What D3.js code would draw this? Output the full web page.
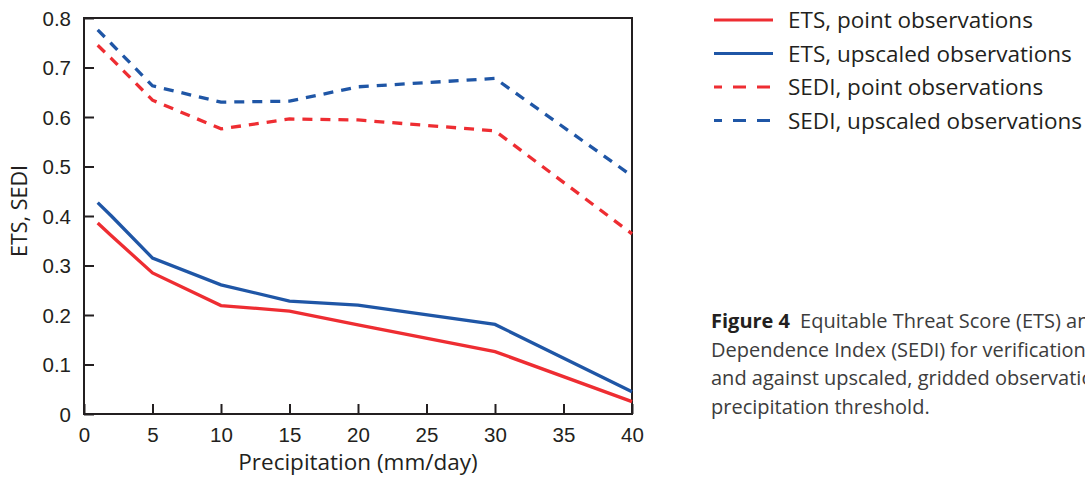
<!DOCTYPE html>
<html>
<head>
<meta charset="utf-8">
<script src="https://cdn.jsdelivr.net/npm/d3@7"></script>
<style>
  body { margin: 0; background: #fff; }
  svg { display: block; font-family: "Open Sans", "Noto Sans", sans-serif; }
</style>
</head>
<body>
<svg id="chart" width="1085" height="482"></svg>
<script>
// data
const thresholds = [1, 2, 5, 10, 15, 20, 30, 40];
const etsPoint    = [0.386, 0.36, 0.285, 0.219, 0.208, 0.180, 0.126, 0.025];
const etsUpscaled = [0.427, 0.40, 0.315, 0.261, 0.228, 0.220, 0.181, 0.045];
const sediPoint    = [0.745, 0.718, 0.634, 0.576, 0.596, 0.594, 0.572, 0.364];
const sediUpscaled = [0.776, 0.748, 0.663, 0.630, 0.632, 0.661, 0.678, 0.481];
const xTicks = [0, 5, 10, 15, 20, 25, 30, 35, 40];
const yTicks = [0, 0.1, 0.2, 0.3, 0.4, 0.5, 0.6, 0.7, 0.8];

const red = "#ee2d32";
const blue = "#1f56a6";
const ink = "#231f20";

const series = [
  { name: "ETS, point observations", values: etsPoint, color: red, dash: null },
  { name: "ETS, upscaled observations", values: etsUpscaled, color: blue, dash: null },
  { name: "SEDI, point observations", values: sediPoint, color: red, dash: "10,8" },
  { name: "SEDI, upscaled observations", values: sediUpscaled, color: blue, dash: "10,8" }
];

const captionLines = [
  "Dependence Index (SEDI) for verification against point observations",
  "and against upscaled, gridded observations, as a function of",
  "precipitation threshold."
];

const svg = d3.select("#chart");
const mLeft = 84, mRight = 632, mTop = 18, mBottom = 414;

const x = d3.scaleLinear().domain([0, 40]).range([mLeft, mRight]);
const y = d3.scaleLinear().domain([0, 0.8]).range([mBottom, mTop]);

// frame
svg.append("rect")
  .attr("x", mLeft).attr("y", mTop)
  .attr("width", mRight - mLeft).attr("height", mBottom - mTop)
  .attr("fill", "none").attr("stroke", ink).attr("stroke-width", 2);

// axes with inward ticks
const xAxis = svg.append("g")
  .attr("transform", `translate(0,${mBottom})`)
  .call(d3.axisBottom(x).tickValues(xTicks).tickSize(-10).tickPadding(13).tickFormat(d3.format("d")));
const yAxis = svg.append("g")
  .attr("transform", `translate(${mLeft},0)`)
  .call(d3.axisLeft(y).tickValues(yTicks).tickSize(-10).tickPadding(13)
    .tickFormat(d => d === 0 ? "0" : d3.format(".1f")(d)));

[xAxis, yAxis].forEach(g => {
  g.select(".domain").remove();
  g.selectAll(".tick line").attr("stroke", ink).attr("stroke-width", 2);
  g.selectAll(".tick text").attr("fill", ink).style("font-size", "20.5px");
});
yAxis.selectAll(".tick text").attr("dy", "0.36em");

// axis labels
svg.append("text")
  .attr("x", 358).attr("y", 470)
  .attr("text-anchor", "middle").attr("fill", ink)
  .style("font-size", "22.5px")
  .text("Precipitation (mm/day)");
svg.append("text")
  .attr("transform", "translate(27,211) rotate(-90)")
  .attr("text-anchor", "middle").attr("fill", ink)
  .style("font-size", "21.5px")
  .text("ETS, SEDI");

// lines
const line = d3.line()
  .x((d, i) => x(thresholds[i]))
  .y(d => y(d));

series.forEach(s => {
  svg.append("path")
    .datum(s.values)
    .attr("d", line)
    .attr("fill", "none")
    .attr("stroke", s.color)
    .attr("stroke-width", 3.3)
    .attr("stroke-dasharray", s.dash);
});

// legend
const legend = svg.append("g");
series.forEach((s, i) => {
  const ly = 20 + i * 33.5;
  legend.append("line")
    .attr("x1", 714).attr("x2", 773)
    .attr("y1", ly).attr("y2", ly)
    .attr("stroke", s.color).attr("stroke-width", 3)
    .attr("stroke-dasharray", s.dash ? "13,11" : null)
    .attr("stroke-dashoffset", s.dash ? 5 : null);
  legend.append("text")
    .attr("x", 788).attr("y", ly).attr("dy", "0.36em")
    .attr("fill", ink).style("font-size", "22.5px")
    .text(s.name);
});

// caption (runs off the right edge as in the source figure)
const cap = svg.append("g").style("font-size", "20px").attr("fill", "#3c3c3c");
const first = cap.append("text").attr("x", 711).attr("y", 328);
first.append("tspan").style("font-weight", "bold").attr("fill", ink).text("Figure 4");
first.append("tspan").attr("dx", 10).text("Equitable Threat Score (ETS) and Symmetric Extremal");
captionLines.forEach((t, i) => {
  cap.append("text").attr("x", 711).attr("y", 356.5 + i * 28.5).text(t);
});
</script>
</body>
</html>
